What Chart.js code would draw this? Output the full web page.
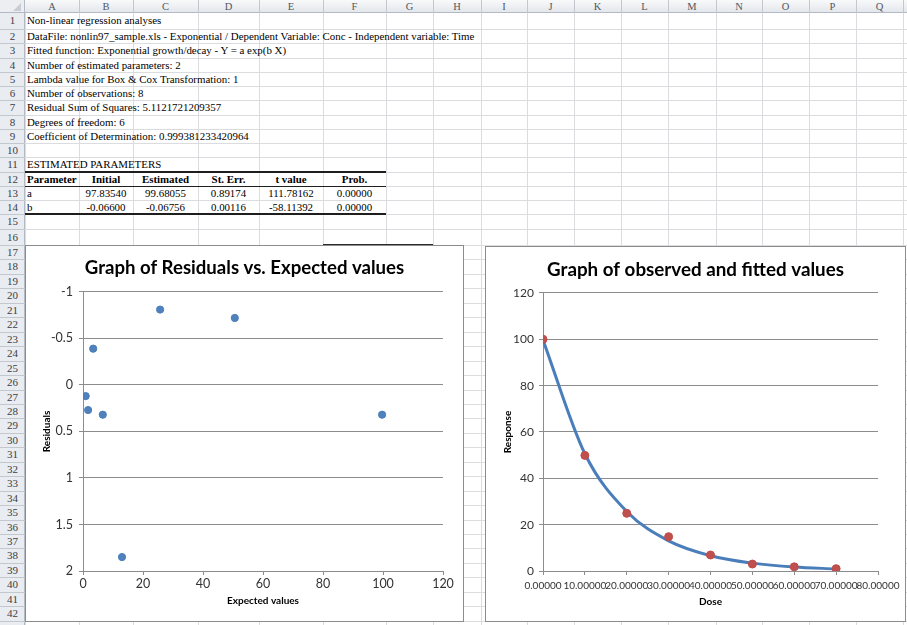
<!DOCTYPE html>
<html><head><meta charset="utf-8">
<script src="https://cdn.jsdelivr.net/npm/chart.js@4.4.1/dist/chart.umd.min.js"></script>
<style>
html,body{margin:0;padding:0;background:#fff;}
body{width:907px;height:625px;overflow:hidden;position:relative;font-family:"Liberation Serif","Times New Roman",serif;}
#sheet div{position:absolute;box-sizing:border-box;}
.txt{white-space:nowrap;font-size:10.9px;color:#000;}
.chartbox{position:absolute;background:#fff;border:1px solid #8c8c8c;box-sizing:border-box;}
.chartbox canvas{position:absolute;left:0;top:0;}
</style></head><body>
<div id="sheet"></div>
<div class="chartbox" id="box1" style="left:25px;top:245px;width:439px;height:377px;"><canvas id="c1" width="437" height="375"></canvas></div>
<div class="chartbox" id="box2" style="left:485px;top:246px;width:421px;height:376px;"><canvas id="c2" width="419" height="374"></canvas></div>
<script>
// ---------------- DATA ----------------
// Left chart: residuals vs expected values
const expectedValues = [0.9, 1.7, 3.4, 6.6, 13.0, 25.7, 50.6, 99.7];
const residuals      = [0.12, 0.27, -0.39, 0.32, 1.85, -0.81, -0.72, 0.32];
const residualTickValues = [-1, -0.5, 0, 0.5, 1, 1.5, 2];
const residualTickLabels = ['-1', '-0.5', '0', '0.5', '1', '1.5', '2'];
const expectedTickValues = [0, 20, 40, 60, 80, 100, 120];
const expectedTickLabels = ['0', '20', '40', '60', '80', '100', '120'];
// Right chart: observed and fitted values
const doses            = [0, 10, 20, 30, 40, 50, 60, 70];
const observedResponse = [100, 49.9, 24.9, 14.8, 6.9, 3.0, 1.8, 1.0];
const fittedResponse   = [99.7, 50.6, 25.7, 13.0, 6.6, 3.4, 1.7, 0.9];
const doseTickValues = [0, 10, 20, 30, 40, 50, 60, 70, 80];
const doseTickLabels = ['0.00000', '10.00000', '20.00000', '30.00000', '40.00000', '50.00000', '60.00000', '70.00000', '80.00000'];
const responseTickValues = [0, 20, 40, 60, 80, 100, 120];
const responseTickLabels = ['0', '20', '40', '60', '80', '100', '120'];

// Spreadsheet text
const infoLines = [
  'Non-linear regression analyses',
  'DataFile: nonlin97_sample.xls - Exponential / Dependent Variable: Conc - Independent variable: Time',
  'Fitted function: Exponential growth/decay - Y = a exp(b X)',
  'Number of estimated parameters: 2',
  'Lambda value for Box & Cox Transformation: 1',
  'Number of observations: 8',
  'Residual Sum of Squares: 5.1121721209357',
  'Degrees of freedom: 6',
  'Coefficient of Determination: 0.999381233420964'
];
const tableTitle = 'ESTIMATED PARAMETERS';
const tableHeader = ['Parameter', 'Initial', 'Estimated', 'St. Err.', 't value', 'Prob.'];
const tableRowA = ['a', '97.83540', '99.68055', '0.89174', '111.78162', '0.00000'];
const tableRowB = ['b', '-0.06600', '-0.06756', '0.00116', '-58.11392', '0.00000'];

// ---------------- SHEET ----------------
const sheet = document.getElementById('sheet');
function add(style, text, cls){
  const d = document.createElement('div');
  if (cls) d.className = cls;
  for (const k in style) d.style[k] = (typeof style[k] === 'number') ? style[k] + 'px' : style[k];
  if (text != null) d.textContent = text;
  sheet.appendChild(d); return d;
}
const colEdges = [25,79,133,198,259,323,386,433,481,527,574,621,668,716,762,809,856,903,950];
const colNames = 'ABCDEFGHIJKLMNOPQR'.split('');
const rowTops = [];
rowTops[1] = 13.3;
for (let k = 2; k <= 16; k++) rowTops[k] = 29 + (k - 2) * 14.25;
for (let k = 17; k <= 45; k++) rowTops[k] = 245 + (k - 17) * 14.45;

// backgrounds
add({left:0, top:0, width:907, height:13, background:'linear-gradient(#f8f9fb,#e4e7eb)', borderBottom:'1px solid #b4bac3'});
add({left:0, top:13, width:25, height:612, background:'#e9ecf0', borderRight:'1px solid #b4bac3'});
add({left:0, top:0, width:25, height:13, background:'#eceef1', borderRight:'1px solid #b4bac3', borderBottom:'1px solid #b4bac3'});
add({left:13, top:3, width:0, height:0, borderLeft:'8px solid transparent', borderBottom:'8px solid #c9cdd3'});
// grid lines
for (let i = 0; i < colEdges.length; i++) {
  const x = colEdges[i];
  if (i > 0) add({left:x, top:0, width:1, height:13, background:'#c3c8cf'});
  add({left:x, top:13, width:1, height:612, background:'#dadcdf'});
}
for (let k = 2; k <= 44; k++) {
  const y = Math.round(rowTops[k]);
  add({left:0, top:y, width:25, height:1, background:'#c3c8cf'});
  add({left:25, top:y, width:882, height:1, background:'#dadcdf'});
}
// column letters
for (let i = 0; i < colNames.length && colEdges[i] < 907; i++) {
  add({left:colEdges[i], top:0, width:colEdges[i+1]-colEdges[i], height:13, lineHeight:'13px', textAlign:'center', fontSize:'10.5px', color:'#50565e'}, colNames[i], 'txt');
}
// row numbers
for (let k = 1; k <= 43; k++) {
  const t = rowTops[k], h = rowTops[k+1] - rowTops[k];
  add({left:0, top:t, width:25, height:h, lineHeight:h + 'px', textAlign:'center', fontSize:'11px', color:'#3c4046'}, String(k), 'txt');
}
function cellText(row, col, text, align, bold){
  const t = rowTops[row], h = rowTops[row+1] - rowTops[row];
  const x0 = colEdges[col], x1 = colEdges[col+1];
  const st = {top:t, height:h, lineHeight:h + 'px'};
  if (align === 'center') { st.left = x0; st.width = x1 - x0; st.textAlign = 'center'; }
  else { st.left = x0 + 2; }
  if (bold) st.fontWeight = 'bold';
  add(st, text, 'txt');
}
infoLines.forEach((s, i) => cellText(i + 1, 0, s, 'left'));
cellText(11, 0, tableTitle, 'left');
tableHeader.forEach((s, i) => cellText(12, i, s, i === 0 ? 'left' : 'center', true));
tableRowA.forEach((s, i) => cellText(13, i, s, i === 0 ? 'left' : 'center'));
tableRowB.forEach((s, i) => cellText(14, i, s, i === 0 ? 'left' : 'center'));
// table borders
add({left:25, top:rowTops[12] - 1, width:361, height:2, background:'#1e1e1e'});
add({left:25, top:rowTops[13], width:361, height:1, background:'#1e1e1e'});
add({left:25, top:rowTops[15] - 1, width:361, height:2, background:'#1e1e1e'});
add({left:323, top:244, width:110, height:1, background:'#2a2a2a'});

// ---------------- CHARTS ----------------
const FAM = 'Lato, "Open Sans", sans-serif';
const gridCol = '#8c8c8c';

function fixTicks(values){ return function(scale){ scale.ticks = values.map(v => ({value:v})); }; }
// invisible right-hand spacer axis so the chart title stays centred on the whole chart box
function spacer(w){
  return { type: 'linear', position: 'right', display: true, afterFit: s => { s.width = w; },
    grid: { display: false }, ticks: { display: false }, border: { display: false }, title: { display: false } };
}

new Chart(document.getElementById('c1'), {
  type: 'scatter',
  data: { datasets: [{
    data: expectedValues.map((x, i) => ({x: x, y: residuals[i]})),
    backgroundColor: '#4F81BD', borderColor: '#4A7EBB', borderWidth: 1,
    pointRadius: 3.6, showLine: false
  }]},
  options: {
    responsive: false, animation: false, devicePixelRatio: 1,
    layout: { padding: 0 },
    plugins: {
      legend: { display: false }, tooltip: { enabled: false },
      title: { display: true, text: 'Graph of Residuals vs. Expected values', color: '#000',
        font: { family: FAM, size: 18.6, weight: 'bold', lineHeight: 1.2 },
        padding: { top: 10.8, bottom: 12.8 } }
    },
    scales: {
      x: { type: 'linear', min: 0, max: 120,
        afterFit: s => { s.height = 50; },
        afterBuildTicks: fixTicks(expectedTickValues),
        ticks: { font: {family: FAM, size: 12.5}, color: '#333', padding: 1, maxRotation: 0, autoSkip: false,
          callback: (v, i) => expectedTickLabels[i] },
        grid: { drawOnChartArea: false, drawTicks: true, tickLength: 4, color: gridCol },
        border: { display: true, color: gridCol },
        title: { display: true, text: 'Expected values', color: '#000',
          font: { family: FAM, size: 10, weight: 'bold', lineHeight: 1.2 },
          padding: { top: 0, bottom: 14 } }
      },
      y: { type: 'linear', min: -1, max: 2, reverse: true,
        afterFit: s => { s.width = 57; },
        afterBuildTicks: fixTicks(residualTickValues),
        ticks: { font: {family: FAM, size: 12.5}, color: '#333', padding: 6, callback: (v, i) => residualTickLabels[i] },
        grid: { drawOnChartArea: true, drawTicks: true, tickLength: 4, color: gridCol },
        border: { display: true, color: gridCol },
        title: { display: true, text: 'Residuals', color: '#000',
          font: { family: FAM, size: 10, weight: 'bold', lineHeight: 1.2 },
          padding: { top: 15, bottom: 0 } }
      },
      spacerR: spacer(20)
    }
  }
});

new Chart(document.getElementById('c2'), {
  type: 'scatter',
  data: { datasets: [
    { label: 'Observed', data: doses.map((x, i) => ({x: x, y: observedResponse[i]})),
      backgroundColor: '#C0504D', borderColor: '#BE4B48', borderWidth: 1, pointRadius: 4, showLine: false },
    { label: 'Fitted', data: doses.map((x, i) => ({x: x, y: fittedResponse[i]})),
      borderColor: '#4A7EBB', backgroundColor: '#4A7EBB', borderWidth: 3, pointRadius: 0,
      showLine: true, cubicInterpolationMode: 'monotone', fill: false }
  ]},
  options: {
    responsive: false, animation: false, devicePixelRatio: 1,
    layout: { padding: 0 },
    plugins: {
      legend: { display: false }, tooltip: { enabled: false },
      title: { display: true, text: 'Graph of observed and fitted values', color: '#000',
        font: { family: FAM, size: 18.8, weight: 'bold', lineHeight: 1.2 },
        padding: { top: 11.7, bottom: 11.7 } }
    },
    scales: {
      x: { type: 'linear', min: 0, max: 80,
        afterFit: s => { s.height = 50; },
        afterBuildTicks: fixTicks(doseTickValues),
        ticks: { font: {family: FAM, size: 10}, color: '#333', padding: 5, maxRotation: 0, autoSkip: false,
          callback: (v, i) => doseTickLabels[i] },
        grid: { drawOnChartArea: false, drawTicks: true, tickLength: 4, color: gridCol },
        border: { display: true, color: gridCol },
        title: { display: true, text: 'Dose', color: '#000',
          font: { family: FAM, size: 10, weight: 'bold', lineHeight: 1.2 },
          padding: { top: 0, bottom: 13 } }
      },
      y: { type: 'linear', min: 0, max: 120,
        afterFit: s => { s.width = 57; },
        afterBuildTicks: fixTicks(responseTickValues),
        ticks: { font: {family: FAM, size: 12}, color: '#333', padding: 5, callback: (v, i) => responseTickLabels[i] },
        grid: { drawOnChartArea: true, drawTicks: true, tickLength: 4, color: gridCol },
        border: { display: true, color: gridCol },
        title: { display: true, text: 'Response', color: '#000',
          font: { family: FAM, size: 10, weight: 'bold', lineHeight: 1.2 },
          padding: { top: 16, bottom: 0 } }
      },
      spacerR: spacer(27)
    }
  }
});
</script>
</body></html>
